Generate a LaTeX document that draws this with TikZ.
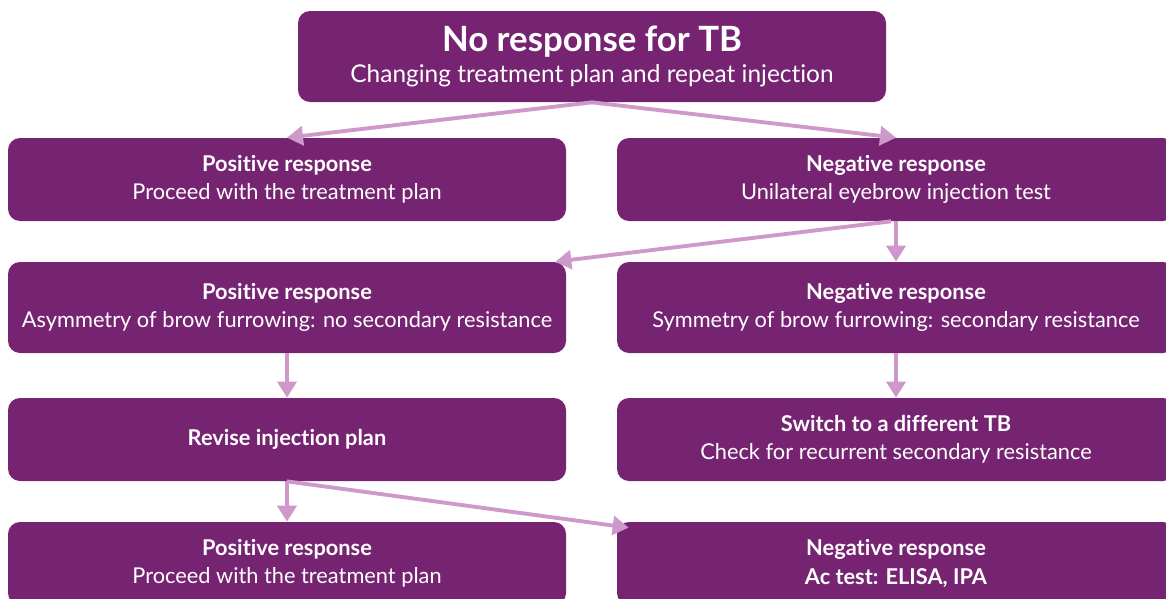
\documentclass[tikz,border=0pt]{standalone}
\usepackage{fontspec}
\setmainfont{Lato}[Ligatures={NoCommon,NoRare}]
\usetikzlibrary{arrows.meta}

\definecolor{boxpurple}{RGB}{118,36,114}
\definecolor{arrowpink}{RGB}{207,152,202}

\begin{document}
\begin{tikzpicture}[
        b/.style={rectangle, rounded corners=.24cm, fill=boxpurple,
          text=white, align=center, minimum width=11.16cm,
          minimum height=1.66cm, font=\fontsize{12.4}{16}\selectfont},
        bt/.style={b, minimum height=1.82cm},
        ar/.style={draw=arrowpink, line width=2.2pt,
          -{Triangle[length=.32cm, width=.38cm]}}]

      \useasboundingbox (0,0) rectangle (23.32,-11.98);
      \clip (0,0) rectangle (23.32,-11.98);

      % top
      \node[bt, minimum width=11.76cm, font=\fontsize{13.9}{18}\selectfont]
        (top) at (11.84,-1.13)
        {{\fontsize{19.8}{18}\selectfont\bfseries No response for TB}\\
         Changing treatment plan and repeat injection};

      % first test
      \node[b] (p1) at (5.74,-3.59)
        {\textbf{Positive response}\\Proceed with the treatment plan};
      \node[b] (n1) at (17.92,-3.59)
        {\textbf{Negative response}\\Unilateral eyebrow injection test};
      \draw[ar] (top.south) -- (p1.north);
      \draw[ar] (top.south) -- (n1.north);

      % eyebrow test
      \node[bt] (p2) at (5.74,-6.15)
        {\textbf{Positive response}\\
         Asymmetry of brow furrowing: no secondary resistance};
      \node[bt] (n2) at (17.92,-6.15)
        {\textbf{Negative response}\\
         Symmetry of brow furrowing: secondary resistance};
      \draw[ar] ([xshift=-.1cm]n1.south) -- ([xshift=-.22cm]p2.north east);
      \draw[ar] (n1.south) -- (n2.north);

      % next step
      \node[b] (p3) at (5.74,-8.79) {\textbf{Revise injection plan}};
      \node[b] (n3) at (17.92,-8.79)
        {\textbf{Switch to a different TB}\\
         Check for recurrent secondary resistance};
      \draw[ar] (p2.south) -- (p3.north);
      \draw[ar] (n2.south) -- (n3.north);

      % after revision
      \node[b] (p4) at (5.74,-11.27)
        {\textbf{Positive response}\\Proceed with the treatment plan};
      \node[b] (n4) at (17.92,-11.27)
        {\textbf{Negative response}\\\textbf{Ac test: ELISA, IPA}};
      \draw[ar] (p3.south) -- (p4.north);
      \draw[ar] (p3.south) -- ([shift={(.24,-.12)}]n4.north west);
    \end{tikzpicture}
\end{document}
